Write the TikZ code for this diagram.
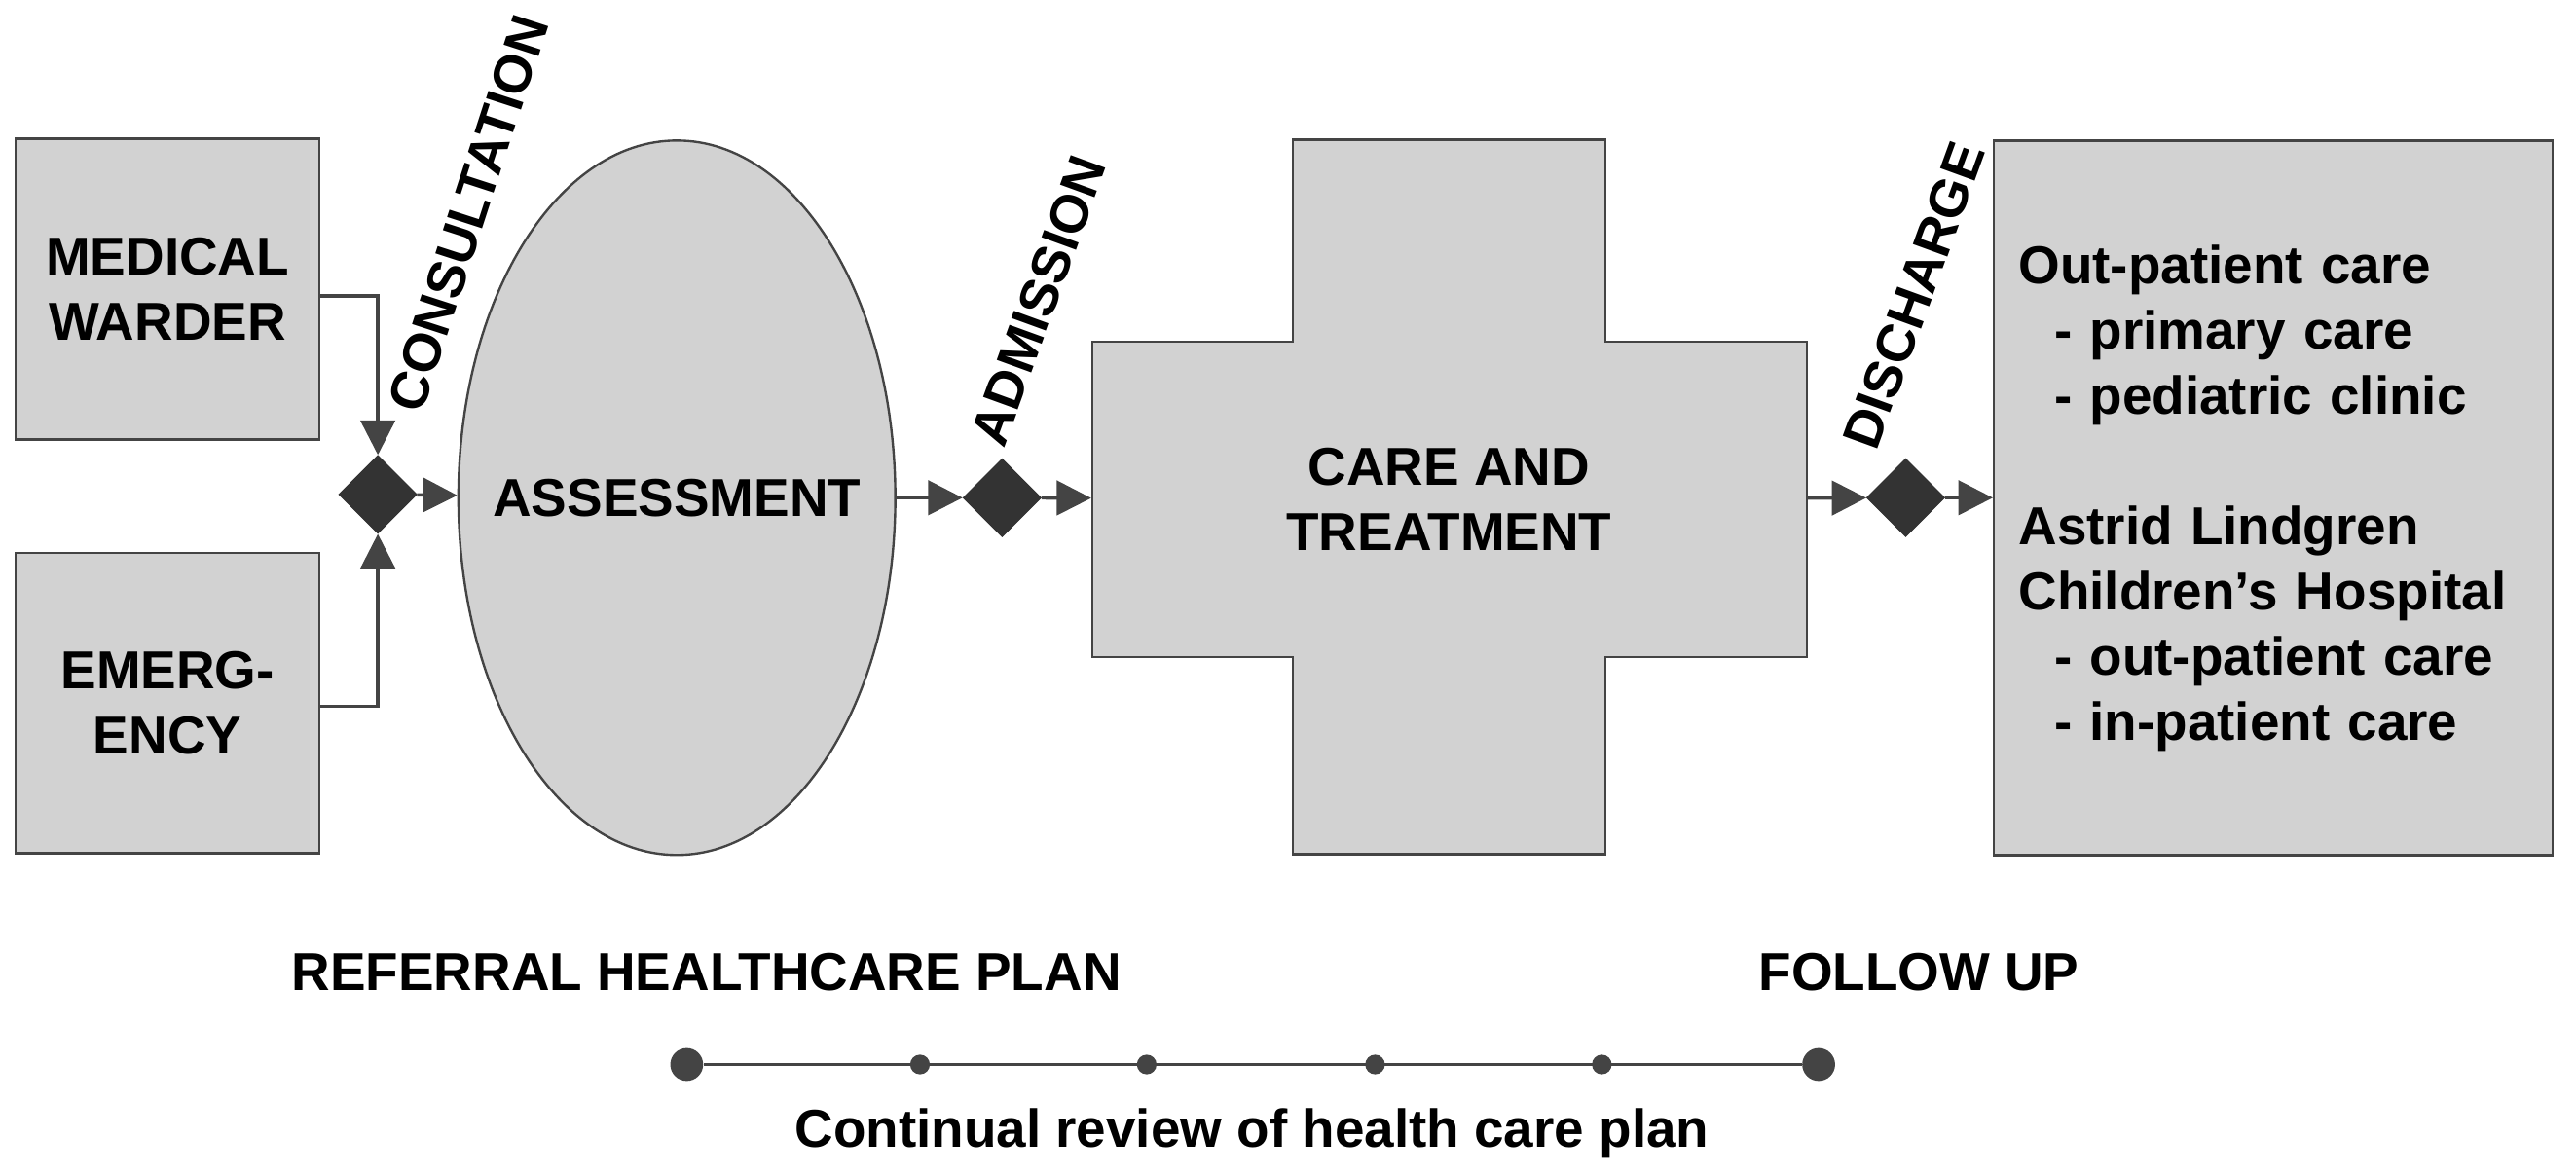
\documentclass[tikz,border=0pt]{standalone}
\usepackage{fontspec}
\setmainfont{Liberation Sans}
\usetikzlibrary{shapes.geometric,arrows.meta,positioning}
\definecolor{boxgray}{HTML}{D2D2D2}
\definecolor{linegray}{HTML}{444444}
\tikzstyle{block} = [rectangle, draw=linegray, thick, fill=boxgray, minimum width=3.7cm, minimum height=3.66cm, align=center, font=\bfseries\fontsize{18.5}{22.6}\selectfont]
\tikzstyle{gate} = [diamond, fill=black!80, draw=black!80, inner sep=0pt, minimum size=0.95cm]
\tikzstyle{arrow} = [very thick, draw=linegray, -{Triangle[length=0.42cm,width=0.42cm]}]
\tikzstyle{label} = [font=\bfseries\fontsize{18.5}{22.6}\selectfont]
\begin{document}
\begin{tikzpicture}[x=0.02cm, y=-0.02cm]
    \useasboundingbox (0,0) rectangle (1568,715);

    % Draw nodes
    \node (warder) [block] at (102,176) {MEDICAL\\WARDER};
    \node (emergency) [block] at (102,428) {EMERG-\\ENCY};
    \node (gate1) [gate] at (230,301) {};
    \node (assess) [ellipse, draw=linegray, thick, fill=boxgray, inner sep=0pt, minimum width=5.32cm, minimum height=8.7cm] at (412,303) {};
    \node [label] at (assess.center) {ASSESSMENT};
    \node (gate2) [gate] at (610,303) {};
    \draw [linegray, thick, fill=boxgray] (787,85) -- (977,85) -- (977,208) -- (1100,208) -- (1100,400) -- (977,400) -- (977,520) -- (787,520) -- (787,400) -- (665,400) -- (665,208) -- (787,208) -- cycle;
    \node (care) [minimum width=8.7cm, minimum height=3.84cm, align=center, label] at (882,304) {CARE AND\\TREATMENT};
    \node (gate3) [gate] at (1160,303) {};
    \node (follow) [block, minimum width=6.8cm, minimum height=8.7cm, align=left, text width=6.2cm, inner sep=0.3cm, anchor=north west] at (1213,85) {Out-patient care\\
      \ \ - primary care\\
      \ \ - pediatric clinic\\[22.6pt]
      Astrid Lindgren\\
      Children’s Hospital\\
      \ \ - out-patient care\\
      \ \ - in-patient care\\[44pt]};

    % Draw connections
    \draw [arrow] (warder.east |- 0,180) -| (gate1.north);
    \draw [arrow] (emergency.east |- 0,430) -| (gate1.south);
    \draw [arrow] (gate1) -- (assess);
    \draw [arrow] (assess) -- (gate2);
    \draw [arrow] (gate2) -- (care);
    \draw [arrow] (care) -- (gate3);
    \draw [arrow] (gate3) -- (follow.west |- gate3);

    % Stage labels
    \node [label, rotate=72] at (285,130) {CONSULTATION};
    \node [label, rotate=70] at (632,183) {ADMISSION};
    \node [label, rotate=70] at (1165,180) {DISCHARGE};
    \node [label] at (430,592) {REFERRAL HEALTHCARE PLAN};
    \node [label] at (1168,592) {FOLLOW UP};

    % Timeline
    \node (start) [circle, fill=linegray, inner sep=0pt, minimum size=0.4cm] at (418,648) {};
    \node (finish) [circle, fill=linegray, inner sep=0pt, minimum size=0.4cm] at (1107,648) {};
    \draw [linegray, very thick] (start) -- (finish);
    \foreach \x in {560,698,837,975}
        \fill [linegray] (\x,648) circle (0.12cm);
    \node [label] at (762,690) {Continual review of health care plan};
\end{tikzpicture}
\end{document}
